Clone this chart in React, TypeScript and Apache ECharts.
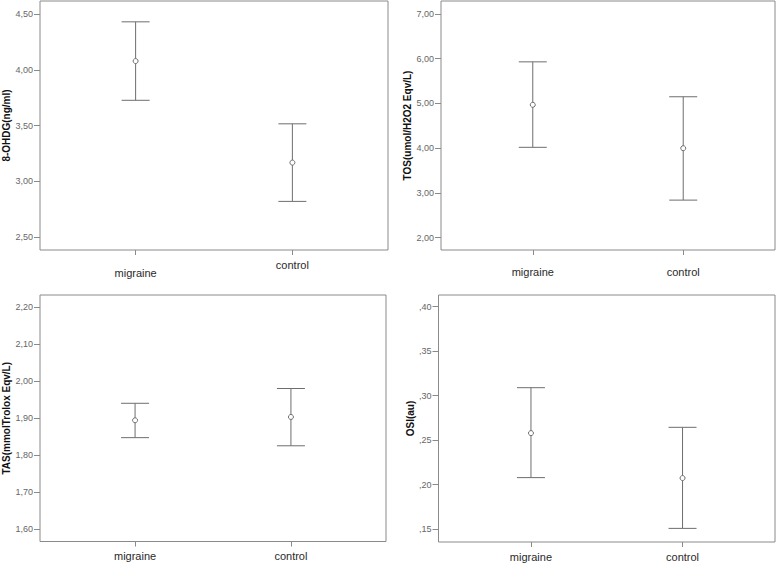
import React, { useEffect, useRef } from "react";
import * as echarts from "echarts";

const categories = ["migraine", "control"];
const categoryPos = [1, 2];

// [low, mean, high] per category
const ohdgValues = [
  [3.726, 4.078, 4.43],
  [2.819, 3.167, 3.515],
];
const tosValues = [
  [4.02, 4.97, 5.93],
  [2.84, 4.0, 5.15],
];
const tasValues = [
  [1.847, 1.894, 1.94],
  [1.825, 1.903, 1.98],
];
const osiValues = [
  [0.208, 0.258, 0.309],
  [0.151, 0.2075, 0.2645],
];

const ohdgTicks = [2.5, 3.0, 3.5, 4.0, 4.5];
const tosTicks = [2, 3, 4, 5, 6, 7];
const tasTicks = [1.6, 1.7, 1.8, 1.9, 2.0, 2.1, 2.2];
const osiTicks = [0.15, 0.2, 0.25, 0.3, 0.35, 0.4];

const axisNames = ["8-OHDG(ng/ml)", "TOS(umol/H2O2 Eqv/L)", "TAS(mmolTrolox Eqv/L)", "OSI(au)"];

const LINE = "#6e6e6e";
const FRAME = "#8a8a8a";
const FONT = "'Liberation Sans', Arial, sans-serif";

const fmtComma = (v: number) => v.toFixed(2).replace(".", ",");
const fmtOsi = (v: number) => v.toFixed(2).replace("0.", ",");

export default function App() {
  const ref = useRef<HTMLDivElement>(null);
  useEffect(() => {
    if (!ref.current) return;
    const chart = echarts.init(ref.current, null, { renderer: "svg" });

    const grids = [
      { left: 40, top: 1, width: 348, height: 249 },
      { left: 441, top: 1, width: 334, height: 249 },
      { left: 40, top: 295, width: 346, height: 246.5 },
      { left: 438.5, top: 295, width: 336.5, height: 247 },
    ];
    const yRanges = [
      [2.383, 4.617],
      [1.725, 7.29],
      [1.566, 2.233],
      [0.1357, 0.4131],
    ];
    const yTicks = [ohdgTicks, tosTicks, tasTicks, osiTicks];
    const yFmt = [fmtComma, fmtComma, fmtComma, fmtOsi];
    const nameGaps = [29, 22, 29, 23];
    const catMargins = [9, 16, 9, 9];
    const datasets = [ohdgValues, tosValues, tasValues, osiValues];

    const renderItem = (params: any, api: any) => {
      const x = api.value(0);
      const lo = api.coord([x, api.value(1)]);
      const m = api.coord([x, api.value(2)]);
      const hi = api.coord([x, api.value(3)]);
      const cap = 14;
      const style = { stroke: LINE, lineWidth: 1, fill: null };
      return {
        type: "group",
        children: [
          { type: "line", shape: { x1: lo[0], y1: lo[1], x2: hi[0], y2: hi[1] }, style },
          { type: "line", shape: { x1: hi[0] - cap, y1: hi[1], x2: hi[0] + cap, y2: hi[1] }, style },
          { type: "line", shape: { x1: lo[0] - cap, y1: lo[1], x2: lo[0] + cap, y2: lo[1] }, style },
          { type: "circle", shape: { cx: m[0], cy: m[1], r: 2.5 }, style: { stroke: LINE, lineWidth: 1, fill: "#fff" } },
        ],
      };
    };

    const option: any = {
      animation: false,
      backgroundColor: "#fff",
      grid: grids.map((g) => ({ ...g, show: true, borderColor: FRAME, borderWidth: 1, backgroundColor: "#fff" })),
      xAxis: grids.map((_, i) => ({
        type: "value",
        gridIndex: i,
        min: 0.39,
        max: 2.61,
        splitLine: { show: false },
        axisLine: { show: false },
        axisTick: { show: true, length: 5, customValues: categoryPos, lineStyle: { color: FRAME } },
        axisLabel: {
          show: true,
          customValues: categoryPos,
          margin: catMargins[i],
          color: "#2a2a2a",
          fontSize: 11,
          fontFamily: FONT,
          formatter: (v: number) => {
            const idx = categoryPos.indexOf(v);
            const name = idx >= 0 ? categories[idx] : "";
            if (i === 0 && idx === 0) return "{lo|" + name + "}";
            return name;
          },
          rich: { lo: { padding: [8, 0, 0, 0], color: "#2a2a2a", fontSize: 11, fontFamily: FONT } },
        },
      })),
      yAxis: grids.map((_, i) => ({
        type: "value",
        gridIndex: i,
        min: yRanges[i][0],
        max: yRanges[i][1],
        name: axisNames[i],
        nameLocation: "middle",
        nameGap: nameGaps[i],
        nameTextStyle: { fontWeight: "bold", fontSize: 10, color: "#111", fontFamily: FONT },
        splitLine: { show: false },
        axisLine: { show: false },
        axisTick: { show: true, length: 6, customValues: yTicks[i], lineStyle: { color: FRAME } },
        axisLabel: {
          show: true,
          customValues: yTicks[i],
          margin: 7,
          color: "#666",
          fontSize: 9,
          fontFamily: FONT,
          formatter: (v: number) => yFmt[i](v),
        },
      })),
      series: datasets.map((d, i) => ({
        type: "custom",
        xAxisIndex: i,
        yAxisIndex: i,
        renderItem,
        encode: { x: 0, y: [1, 2, 3] },
        data: d.map((r, k) => [categoryPos[k], r[0], r[1], r[2]]),
      })),
    };
    chart.setOption(option);
    return () => chart.dispose();
  }, []);

  return (
    <div
      ref={ref}
      style={{ position: "fixed", left: 0, top: 0, width: 778, height: 563, background: "#fff" }}
    />
  );
}
